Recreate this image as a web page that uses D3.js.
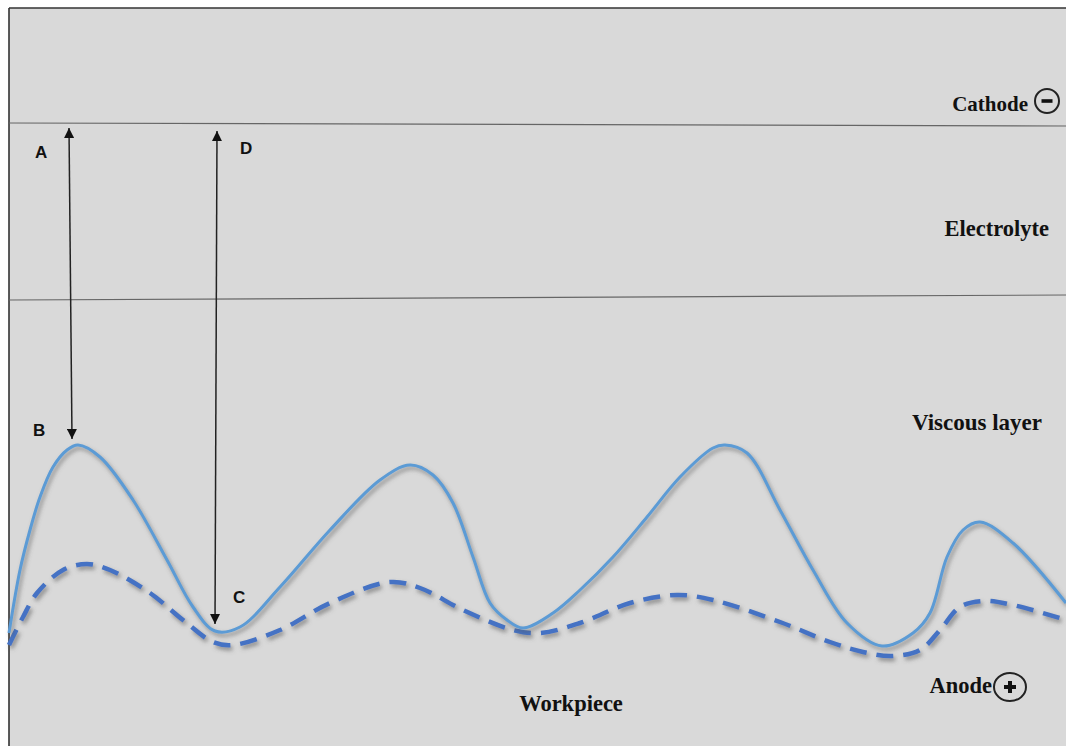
<!DOCTYPE html>
<html><head><meta charset="utf-8">
<script src="https://cdn.jsdelivr.net/npm/d3@7/dist/d3.min.js"></script>
<style>html,body{margin:0;padding:0;background:#fff;}svg{display:block;}</style>
</head><body>
<svg id="chart" width="1066" height="746"></svg>
<script>
// Profile data: x = position along workpiece, y = depth row (0 top, 746 bottom)
const solidX = [0,11,21,31,44,58,69,91,124,158,184,206,231,271,321,371,401,424,444,464,481,498,514,544,571,604,638,671,704,716,738,771,804,838,873,904,921,938,954,971,1004,1057];
const solidY = [633,570,530,497,467,450,445,457,500,560,607,631,627,587,530,480,465,475,503,557,603,620,628,613,590,557,517,477,448,445,453,510,570,623,646,633,613,557,530,522,543,603];
const dashX = [0,14,28,54,78,101,141,174,204,224,271,321,381,411,454,504,531,571,621,668,704,771,821,854,883,911,931,951,974,1004,1057];
const dashY = [645,617,593,570,564,570,593,620,642,645,630,603,582,588,610,630,633,623,603,595,600,622,642,652,656,650,630,607,601,605,620];
const layerNames = ["Cathode","Electrolyte","Viscous layer","Workpiece"];
const boundaryLines = [{name:"cathode", y0:123, y1:126},{name:"electrolyte", y0:300, y1:295}];
const gapLabels = ["A","B","C","D"];
const arrowDefs = [{from:"A", x0:60, x1:63, top:128, bottom:439},{from:"D", x0:208, x1:206, top:131, bottom:624}];

(function(){
const svg = d3.select("#chart");
const W = 1066, H = 746, padL = 9, padT = 8;
const x = d3.scaleLinear().domain([0,1057]).range([padL, W]);
const y = d3.scaleLinear().domain([0,746]).range([0, H]);

const defs = svg.append("defs");
const f = defs.append("filter").attr("id","shadow").attr("x","-5%").attr("y","-20%").attr("width","110%").attr("height","150%");
f.append("feDropShadow").attr("dx",2).attr("dy",3).attr("stdDeviation",2.2).attr("flood-color","#555").attr("flood-opacity",0.6);
defs.append("marker").attr("id","arr").attr("viewBox","0 0 10 10").attr("refX",10).attr("refY",5)
  .attr("markerWidth",11).attr("markerHeight",10).attr("markerUnits","userSpaceOnUse").attr("orient","auto-start-reverse")
  .append("path").attr("d","M0,0 L10,5 L0,10 Z").attr("fill","#111");

// background panel
svg.append("rect").attr("x",padL).attr("y",padT).attr("width",W-padL).attr("height",H-padT).attr("fill","#d9d9d9");
svg.append("line").attr("x1",padL).attr("x2",W).attr("y1",padT).attr("y2",padT).attr("stroke","#333").attr("stroke-width",1.6);
svg.append("line").attr("x1",padL).attr("x2",padL).attr("y1",padT).attr("y2",H).attr("stroke","#333").attr("stroke-width",1.6);

// boundary lines
svg.selectAll("line.bound").data(boundaryLines).join("line").attr("class","bound")
  .attr("x1",x(0)).attr("x2",x(1057)).attr("y1",d=>y(d.y0)).attr("y2",d=>y(d.y1))
  .attr("stroke","#666").attr("stroke-width",1.2);

const line = d3.line().x(d=>x(d[0])).y(d=>y(d[1])).curve(d3.curveCatmullRom.alpha(0.5));
const solidPts = solidX.map((v,i)=>[v,solidY[i]]);
const dashPts = dashX.map((v,i)=>[v,dashY[i]]);

svg.append("path").attr("d",line(dashPts)).attr("fill","none").attr("stroke","#4472c4")
  .attr("stroke-width",4.5).attr("stroke-dasharray","17,10").attr("filter","url(#shadow)");
svg.append("path").attr("d",line(solidPts)).attr("fill","none").attr("stroke","#5b9bd5")
  .attr("stroke-width",3).attr("filter","url(#shadow)");

// arrows
svg.selectAll("line.arrow").data(arrowDefs).join("line").attr("class","arrow")
  .attr("x1",d=>x(d.x0)).attr("x2",d=>x(d.x1)).attr("y1",d=>y(d.top)).attr("y2",d=>y(d.bottom))
  .attr("stroke","#222").attr("stroke-width",1.5)
  .attr("marker-start","url(#arr)").attr("marker-end","url(#arr)");

// gap labels
const labelPos = {A:[26,158],B:[24,436],C:[224,603],D:[231,154]};
svg.selectAll("text.gap").data(gapLabels).join("text").attr("class","gap")
  .attr("x",d=>x(labelPos[d][0])).attr("y",d=>y(labelPos[d][1]))
  .attr("font-family","Liberation Sans, Arial, sans-serif").attr("font-weight","bold").attr("font-size",17)
  .attr("fill","#111").text(d=>d);

// layer labels
const layerPos = [[1019,111,"end",21],[1040,236,"end",22.5],[1033,430,"end",23],[562,711,"middle",22.5]];
svg.selectAll("text.layer").data(layerNames).join("text").attr("class","layer")
  .attr("x",(d,i)=>x(layerPos[i][0])).attr("y",(d,i)=>y(layerPos[i][1]))
  .attr("text-anchor",(d,i)=>layerPos[i][2])
  .attr("font-family","Liberation Serif, Times New Roman, serif").attr("font-weight","bold")
  .attr("font-size",(d,i)=>layerPos[i][3]).attr("fill","#111").text(d=>d);

// cathode symbol
svg.append("circle").attr("cx",x(1038)).attr("cy",y(101)).attr("r",12).attr("fill","none").attr("stroke","#222").attr("stroke-width",2);
svg.append("rect").attr("x",x(1038)-5.5).attr("y",y(101)-1.8).attr("width",11).attr("height",3.6).attr("fill","#111");

// anode label + symbol
svg.append("text").attr("x",x(983)).attr("y",y(693)).attr("text-anchor","end")
  .attr("font-family","Liberation Serif, Times New Roman, serif").attr("font-weight","bold")
  .attr("font-size",22.5).attr("fill","#111").text("Anode");
svg.append("ellipse").attr("cx",x(1001)).attr("cy",y(687)).attr("rx",16).attr("ry",14).attr("fill","none").attr("stroke","#222").attr("stroke-width",2);
svg.append("path").attr("d",`M${x(1001)-6},${y(687)} H${x(1001)+6} M${x(1001)},${y(687)-6} V${y(687)+6}`)
  .attr("stroke","#111").attr("stroke-width",4);
})();
</script>
</body></html>
